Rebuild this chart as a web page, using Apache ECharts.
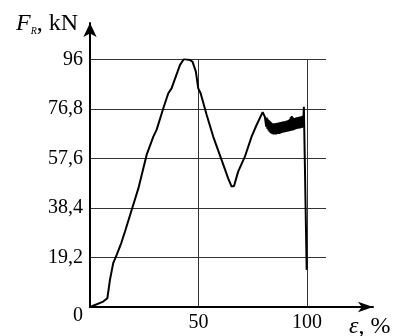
<!DOCTYPE html>
<html>
<head>
    <meta charset="utf-8">
    <title>F_R - strain</title>
    <script src="https://cdn.jsdelivr.net/npm/echarts@6/dist/echarts.min.js"></script>
    <style>
        html, body { margin: 0; padding: 0; background: #fff; }
    </style>
</head>
<body>
    <div id="main" style="width: 393px;height:336px;"></div>
    <script type="text/javascript">
        // curve: strain %, force kN
        var strain = [0, 6.1, 8.0, 9.2, 10.7, 12.3, 14.4, 16.1, 19.2, 22.3, 26.1, 29.2, 30.7, 33.8, 36.1, 37.6,
            41.5, 43.3, 46.1, 47.3, 48.8, 49.9, 51.0, 53.8, 56.8, 60.7, 63.7, 65.3, 66.4, 68.3, 71.4, 74.5,
            76.8, 79.6, 80.6];
        var force = [0, 2.1, 3.4, 10.5, 17.0, 20.2, 24.8, 29.2, 37.6, 46.0, 59.0, 66.1, 68.7, 77.1, 82.9, 84.8,
            93.9, 96.2, 95.8, 95.1, 91.3, 84.8, 82.9, 74.5, 66.1, 57.0, 49.9, 46.7, 46.9, 52.5, 58.3, 66.1,
            70.6, 75.6, 73.8];

        // the jittery part after the second peak
        var bandStrain = [81, 81.25, 81.5, 81.75, 82, 82.25, 82.5, 82.75, 83, 83.25, 83.5, 83.75, 84, 84.25,
            84.5, 84.75, 85, 85.25, 85.5, 85.75, 86, 86.25, 86.5, 86.75, 87, 87.25, 87.5, 87.75, 88, 88.25,
            88.5, 88.75, 89, 89.25, 89.5, 89.75, 90, 90.25, 90.5, 90.75, 91, 91.25, 91.5, 91.75, 92, 92.25,
            92.5, 92.75, 93, 93.25, 93.5, 93.75, 94, 94.25, 94.5, 94.75, 95, 95.25, 95.5, 95.75, 96, 96.25,
            96.5, 96.75, 97, 97.25, 97.5, 97.75, 98, 98.25];
        var bandForce = [74.0, 70.0, 73.5, 69.2, 72.8, 68.5, 72.4, 68.0, 72.0, 67.5, 71.6, 67.2, 71.3, 67.0,
            71.2, 66.9, 71.3, 67.0, 71.2, 66.9, 71.4, 67.1, 71.3, 67.2, 71.5, 67.1, 71.6, 67.3, 71.7, 67.5,
            71.8, 67.6, 71.9, 67.7, 72.0, 67.8, 72.0, 67.9, 72.2, 68.0, 72.3, 68.1, 72.5, 68.2, 72.8, 68.3,
            73.6, 68.4, 74.1, 68.5, 73.6, 68.6, 73.2, 68.8, 73.3, 69.0, 73.5, 69.1, 73.6, 69.2, 73.7, 69.3,
            73.8, 69.3, 73.9, 69.4, 74.0, 69.5, 74.2, 69.6];

        // spike and final drop (fracture)
        var endStrain = [98.6, 99.1, 99.9];
        var endForce = [77.7, 77.7, 14.4];

        var yTicks = [0, 19.2, 38.4, 57.6, 76.8, 96];
        var xTicks = [50, 100];

        var data = [];
        var i;
        for (i = 0; i < strain.length; i++) data.push([strain[i], force[i]]);
        for (i = 0; i < bandStrain.length; i++) data.push([bandStrain[i], bandForce[i]]);
        for (i = 0; i < endStrain.length; i++) data.push([endStrain[i], endForce[i]]);

        var font = "'Liberation Serif', 'Times New Roman', serif";
        var grey = '#333';

        var myChart = echarts.init(document.getElementById('main'), null, {renderer: 'canvas'});

        var option = {
            animation: false,
            backgroundColor: '#fff',
            textStyle: { fontFamily: font },
            title: [
                {
                    left: 11, top: 7,
                    text: '{f|F}{s|R}{n|, kN}',
                    textStyle: {
                        fontWeight: 'normal',
                        rich: {
                            f: { fontFamily: font, fontStyle: 'italic', fontWeight: 'normal', fontSize: 24, color: '#000' },
                            s: { fontFamily: font, fontStyle: 'italic', fontWeight: 'normal', fontSize: 10, color: '#000', padding: [14, 0, 0, 0] },
                            n: { fontFamily: font, fontWeight: 'normal', fontSize: 24, color: '#000' }
                        }
                    }
                },
                {
                    left: 344, top: 310,
                    text: '{e|ε}{n|, %}',
                    textStyle: {
                        fontWeight: 'normal',
                        rich: {
                            e: { fontFamily: font, fontStyle: 'italic', fontWeight: 'normal', fontSize: 24, color: '#000' },
                            n: { fontFamily: font, fontWeight: 'normal', fontSize: 24, color: '#000' }
                        }
                    }
                }
            ],
            grid: [
                { left: 90, right: 67, top: 59.5, bottom: 29 },
                { left: 90, right: 20, top: 23, bottom: 29 }
            ],
            xAxis: [
                {
                    gridIndex: 0, type: 'value', min: 0, max: 108.8, interval: 50,
                    axisLine: { show: false },
                    axisTick: { show: false },
                    splitLine: { show: true, lineStyle: { color: [grey, grey, grey, 'rgba(0,0,0,0)'], width: 1 } },
                    axisLabel: {
                        showMaxLabel: false,
                        margin: 6,
                        color: '#000',
                        fontFamily: font,
                        fontSize: 20,
                        formatter: function (v) {
                            return xTicks.indexOf(v) < 0 ? '' : String(v);
                        }
                    }
                },
                {
                    gridIndex: 1, type: 'value', min: 0, max: 1,
                    axisLine: { show: true, symbol: ['none', 'arrow'], symbolSize: [8, 15], lineStyle: { color: '#000', width: 2 } },
                    axisTick: { show: false }, axisLabel: { show: false }, splitLine: { show: false }
                }
            ],
            yAxis: [
                {
                    gridIndex: 0, type: 'value', min: 0, max: 96, interval: 19.2,
                    axisLine: { show: false },
                    axisTick: { show: false },
                    splitLine: { show: true, lineStyle: { color: grey, width: 1 } },
                    axisLabel: {
                        margin: 7,
                        color: '#000',
                        fontFamily: font,
                        fontSize: 20,
                        formatter: function (v) {
                            if (v === 0) return '{z|0}';
                            return String(+v.toFixed(1)).replace('.', ',');
                        },
                        rich: { z: { fontFamily: font, fontSize: 20, color: '#000', padding: [18, 0, 0, 0] } }
                    }
                },
                {
                    gridIndex: 1, type: 'value', min: 0, max: 1,
                    axisLine: { show: true, symbol: ['none', 'arrow'], symbolSize: [10, 14], lineStyle: { color: '#000', width: 2 } },
                    axisTick: { show: false }, axisLabel: { show: false }, splitLine: { show: false }
                }
            ],
            series: [
                {
                    name: 'F_R',
                    type: 'line',
                    xAxisIndex: 0,
                    yAxisIndex: 0,
                    showSymbol: false,
                    symbol: 'none',
                    data: data,
                    lineStyle: { color: '#000', width: 2 },
                    z: 5
                }
            ]
        };

        myChart.setOption(option);
    </script>
</body>
</html>
